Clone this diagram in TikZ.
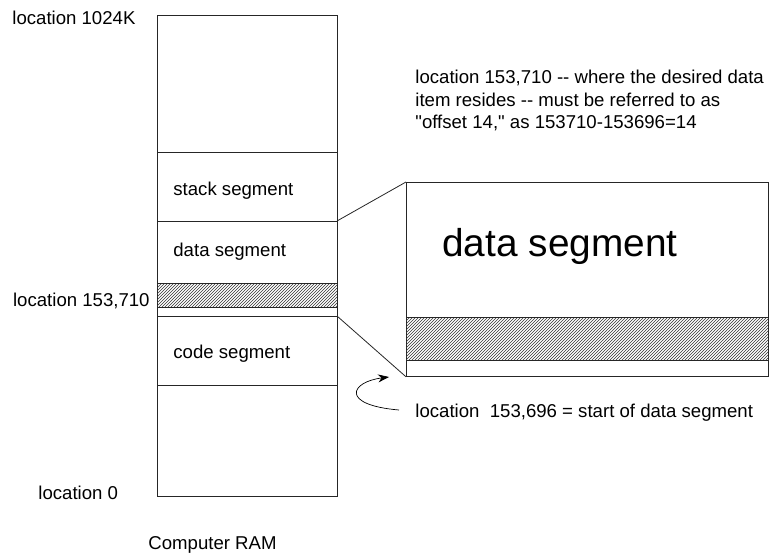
\documentclass[tikz,border=0pt]{standalone}
\usepackage{fontspec}
\newfontfamily\arialf{Liberation Sans}
\usetikzlibrary{patterns,arrows.meta}
\begin{document}
\begin{tikzpicture}[x=1pt,y=-1pt,line width=0.8pt,
  lbl/.style={font=\arialf\fontsize{18.6}{22.5}\selectfont,inner sep=0pt,anchor=base west},
  hatchfill/.style={pattern=north east lines,pattern color=black!80},
  boxline/.style={draw=black!85}]
\useasboundingbox (0,0) rectangle (781,553);
% RAM column
\node[boxline,anchor=north west,minimum width=180,minimum height=481,inner sep=0pt] (ram) at (157,15) {};
\coordinate (l1) at (157,152);
\coordinate (sd) at (337,221);
\coordinate (h1) at (157,283);
\coordinate (h2) at (337,307);
\coordinate (cd) at (337,316);
\coordinate (l5) at (157,385);
\path[hatchfill] (h1) rectangle (h2);
\draw[boxline] (l1) -- (l1 -| ram.east);
\draw[boxline] (sd -| ram.west) -- (sd);
\draw[boxline] (h1) -- (h1 -| ram.east);
\draw[boxline] (h2 -| ram.west) -- (h2);
\draw[boxline] (cd -| ram.west) -- (cd);
\draw[boxline] (l5) -- (l5 -| ram.east);
% enlarged box
\node[boxline,anchor=north west,minimum width=362,minimum height=194,inner sep=0pt] (big) at (406,182) {};
\coordinate (bh1) at (406,317);
\coordinate (bh2) at (768,360);
\path[hatchfill] (bh1) rectangle (bh2);
\draw[boxline] (bh1) -- (bh1 -| big.east);
\draw[boxline] (bh2 -| big.west) -- (bh2);
\draw[boxline] (sd) -- (big.north west);
\draw[boxline] (cd) -- (big.south west);
% texts
\node[lbl] (t1024) at (12,25) {location 1024K};
\node[lbl] (tstack) at (173,196) {stack segment};
\node[lbl] (tdata) at (173,257) {data segment};
\node[lbl,anchor=base east] (t710) at (150,306) {location 153,710};
\node[lbl] (tcode) at (173,358) {code segment};
\node[lbl] (t0) at (38,499) {location 0};
\node[lbl] (tram) at (148,549) {Computer RAM};
\node[lbl,font=\arialf\fontsize{38.8}{44}\selectfont] (tbig) at (442,256) {data segment};
\node[lbl,align=left,anchor=north west] (tnote) at (415,70) {location 153,710 -- where the desired data\\item resides -- must be referred to as\\"offset 14," as 153710-153696=14};
\node[lbl] (t696) at (415,417) {location\ \ 153,696 = start of data segment};
% curved arrow
\coordinate (cs) at (399,410);
\coordinate (tip) at (389,377);
\draw[line width=0.7pt,-{Stealth[length=11,width=8]}] (cs) .. controls (340,405) and (350,382) .. (tip);
\end{tikzpicture}
\end{document}
